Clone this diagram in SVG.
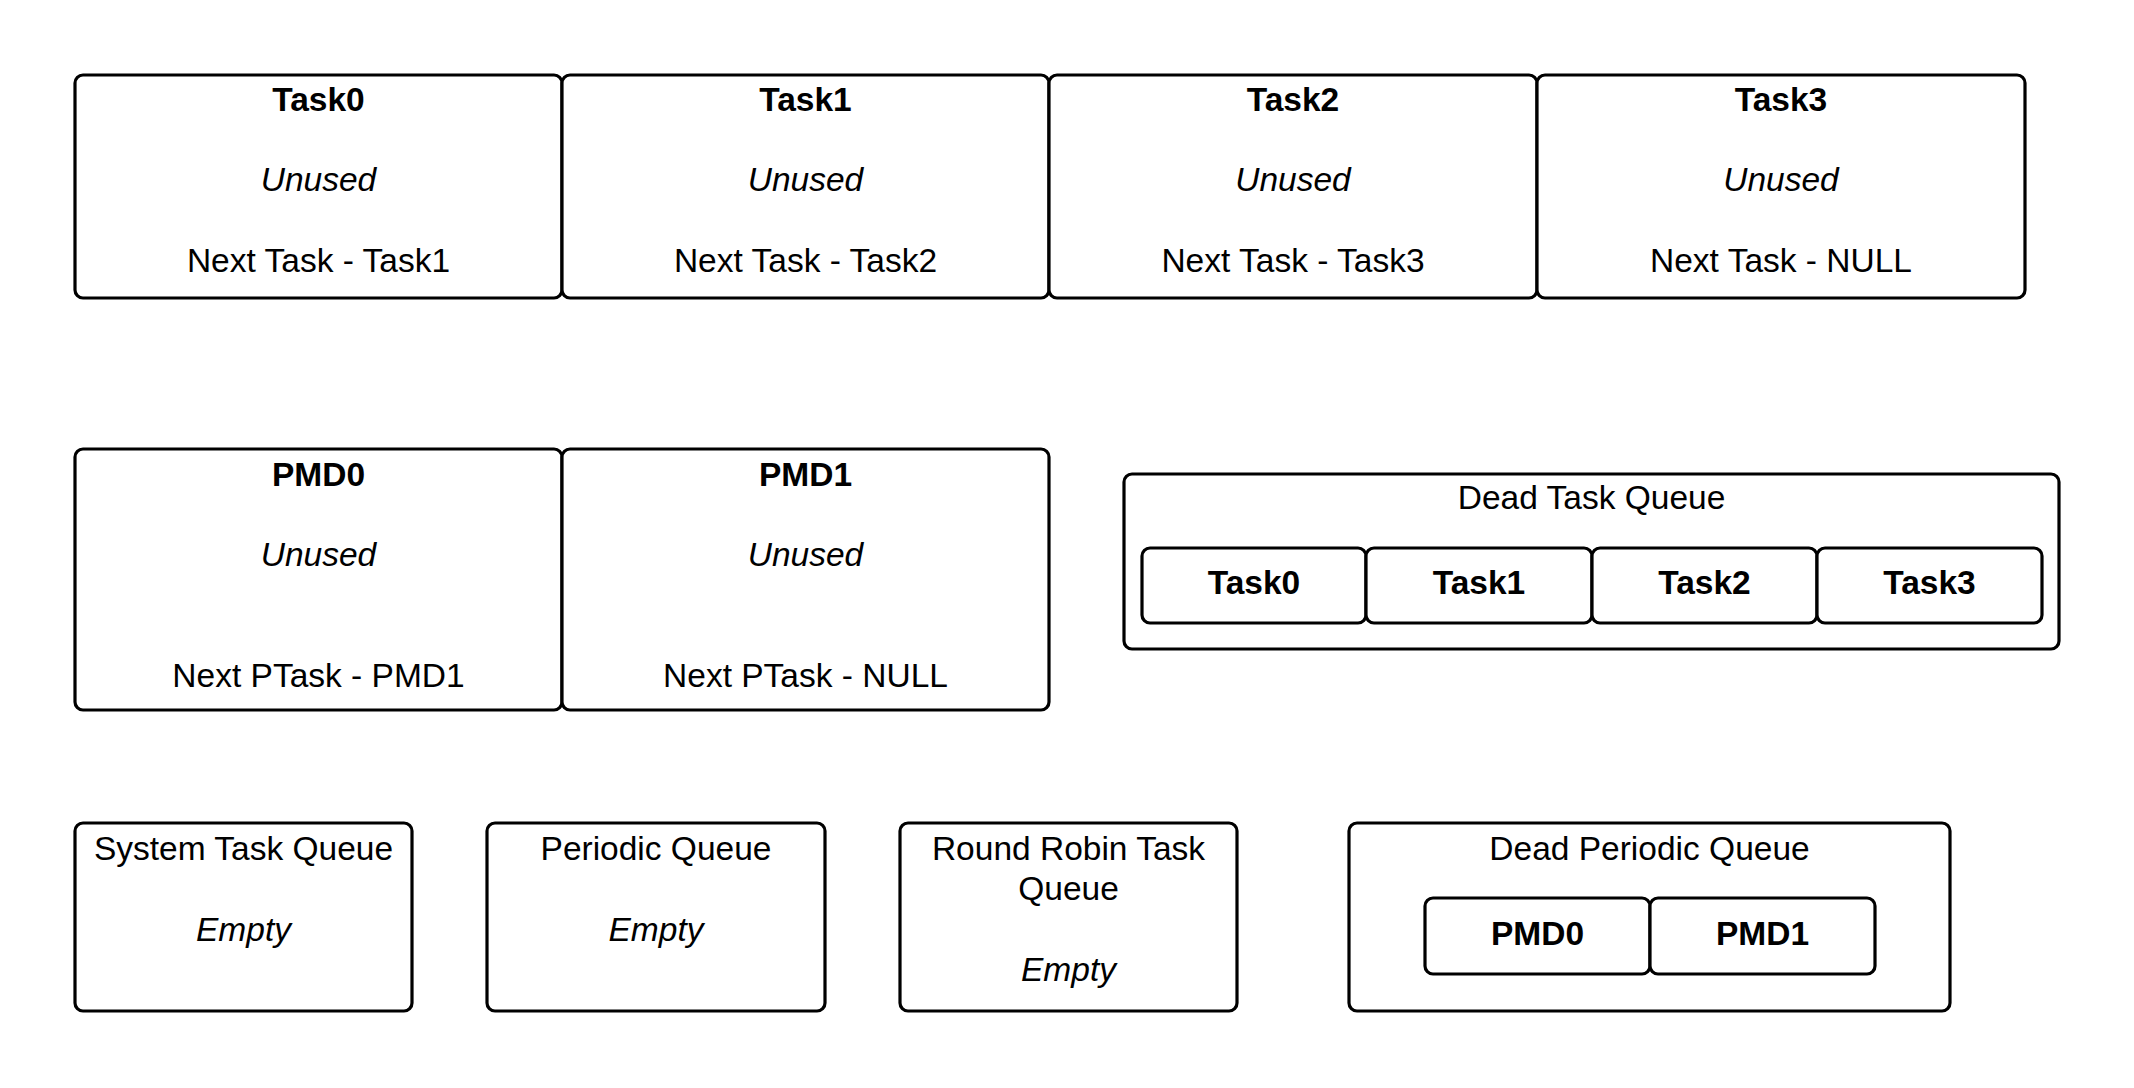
<svg xmlns="http://www.w3.org/2000/svg" width="2134" height="1088" viewBox="0 0 2134 1088">
<style>
.b{fill:#fff;stroke:#000;stroke-width:3.2;}
text{font-family:"Liberation Sans",Arial,sans-serif;font-size:33.5px;fill:#000;text-anchor:middle;}
.t{font-weight:bold;}
.i{font-style:italic;}
</style>
<rect width="2134" height="1088" fill="#fff"/>
<g id="task0"><rect class="b" x="75" y="75" width="487" height="223" rx="8"/><text class="t" x="318.5" y="111">Task0</text><text class="i" x="318.5" y="191">Unused</text><text x="318.5" y="272">Next Task - Task1</text></g>
<g id="task1"><rect class="b" x="562" y="75" width="487" height="223" rx="8"/><text class="t" x="805.5" y="111">Task1</text><text class="i" x="805.5" y="191">Unused</text><text x="805.5" y="272">Next Task - Task2</text></g>
<g id="task2"><rect class="b" x="1049" y="75" width="488" height="223" rx="8"/><text class="t" x="1293" y="111">Task2</text><text class="i" x="1293" y="191">Unused</text><text x="1293" y="272">Next Task - Task3</text></g>
<g id="task3"><rect class="b" x="1537" y="75" width="488" height="223" rx="8"/><text class="t" x="1781" y="111">Task3</text><text class="i" x="1781" y="191">Unused</text><text x="1781" y="272">Next Task - NULL</text></g>
<g id="pmd0"><rect class="b" x="75" y="449" width="487" height="261" rx="8"/><text class="t" x="318.5" y="486">PMD0</text><text class="i" x="318.5" y="566">Unused</text><text x="318.5" y="687">Next PTask - PMD1</text></g>
<g id="pmd1"><rect class="b" x="562" y="449" width="487" height="261" rx="8"/><text class="t" x="805.5" y="486">PMD1</text><text class="i" x="805.5" y="566">Unused</text><text x="805.5" y="687">Next PTask - NULL</text></g>
<g id="deadTaskQueue"><rect class="b" x="1124" y="474" width="935" height="175" rx="8"/><text x="1591.5" y="509">Dead Task Queue</text>
<g id="dtq-task0"><rect class="b" x="1142" y="548" width="224" height="75" rx="8"/><text class="t" x="1254" y="594">Task0</text></g>
<g id="dtq-task1"><rect class="b" x="1366" y="548" width="226" height="75" rx="8"/><text class="t" x="1479" y="594">Task1</text></g>
<g id="dtq-task2"><rect class="b" x="1592" y="548" width="225" height="75" rx="8"/><text class="t" x="1704.5" y="594">Task2</text></g>
<g id="dtq-task3"><rect class="b" x="1817" y="548" width="225" height="75" rx="8"/><text class="t" x="1929.5" y="594">Task3</text></g>
</g>
<g id="systemTaskQueue"><rect class="b" x="75" y="823" width="337" height="188" rx="8"/><text x="243.5" y="860">System Task Queue</text><text class="i" x="243.5" y="941">Empty</text></g>
<g id="periodicQueue"><rect class="b" x="487" y="823" width="338" height="188" rx="8"/><text x="656" y="860">Periodic Queue</text><text class="i" x="656" y="941">Empty</text></g>
<g id="roundRobinQueue"><rect class="b" x="900" y="823" width="337" height="188" rx="8"/><text x="1068.5" y="860">Round Robin Task</text><text x="1068.5" y="900">Queue</text><text class="i" x="1068.5" y="981">Empty</text></g>
<g id="deadPeriodicQueue"><rect class="b" x="1349" y="823" width="601" height="188" rx="8"/><text x="1649.5" y="860">Dead Periodic Queue</text>
<g id="dpq-pmd0"><rect class="b" x="1425" y="898" width="225" height="76" rx="8"/><text class="t" x="1537.5" y="945">PMD0</text></g>
<g id="dpq-pmd1"><rect class="b" x="1650" y="898" width="225" height="76" rx="8"/><text class="t" x="1762.5" y="945">PMD1</text></g>
</g>
<g id="connectors"/>
</svg>
